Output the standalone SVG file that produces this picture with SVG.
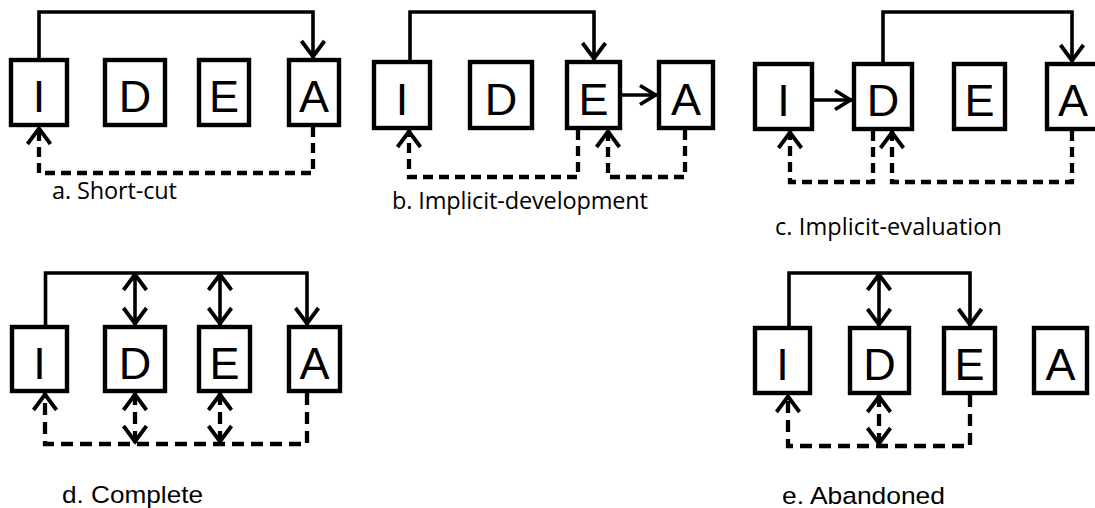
<svg xmlns="http://www.w3.org/2000/svg" width="1095" height="508" viewBox="0 0 1095 508">
<style>
.box{fill:#fff;stroke:#000;stroke-width:4.4}
.lt{font-family:"Liberation Sans",Arial,sans-serif;font-size:45px;text-anchor:middle;fill:#000}
.cn{fill:none;stroke:#000;stroke-width:3.6}
.ds{fill:none;stroke:#000;stroke-width:4.3;stroke-dasharray:10 6}
.ds2{fill:none;stroke:#000;stroke-width:4.3;stroke-dasharray:12 7}
.cap{font-family:"Open Sans","Noto Sans",sans-serif;font-size:23.5px;fill:#000}
.cap2{font-family:"Liberation Sans",Arial,sans-serif;font-size:24.5px;fill:#000}
</style>
<defs>
<marker id="ah" markerUnits="userSpaceOnUse" orient="auto-start-reverse" refX="0" refY="0" markerWidth="30" markerHeight="30" viewBox="-22 -15 26 30" overflow="visible">
<path d="M-17,-11.5 L-1.5,0 L-17,11.5" fill="none" stroke="#000" stroke-width="3.8" stroke-dasharray="none"/>
</marker>
<marker id="ahh" markerUnits="userSpaceOnUse" orient="auto-start-reverse" refX="0" refY="0" markerWidth="30" markerHeight="30" viewBox="-22 -15 26 30" overflow="visible">
<path d="M-17,-9.5 L-1.5,0 L-17,9.5" fill="none" stroke="#000" stroke-width="3.8" stroke-dasharray="none"/>
</marker>
</defs>

<g id="connectors">
<path class="cn" d="M39,58 V12 H313 V58" marker-end="url(#ah)"/>
<path class="ds" d="M313,127 V173 H39 V127" marker-end="url(#ah)"/>
<path class="cn" d="M410,60 V12 H594 V60" marker-end="url(#ah)"/>
<path class="cn" d="M622,95 H657" marker-end="url(#ahh)"/>
<path class="ds" d="M578,130 V177 H409 V130" marker-end="url(#ah)"/>
<path class="ds" d="M685,130 V177 H608 V130" marker-end="url(#ah)"/>
<path class="cn" d="M883,62 V12 H1072 V62" marker-end="url(#ah)"/>
<path class="cn" d="M814,100 H852" marker-end="url(#ahh)"/>
<path class="ds" d="M873,131 V182 H790 V131" marker-end="url(#ah)"/>
<path class="ds" d="M1072,131 V182 H892 V131" marker-end="url(#ah)"/>
<path class="cn" d="M45.5,325 V273 H307 V325" marker-end="url(#ah)"/>
<path class="cn" d="M135,273 V325" marker-start="url(#ah)" marker-end="url(#ah)"/>
<path class="cn" d="M220,273 V325" marker-start="url(#ah)" marker-end="url(#ah)"/>
<path class="ds2" d="M307,393 V444 H45 V393" marker-end="url(#ah)"/>
<path class="ds2" d="M135,393 V443" marker-start="url(#ah)" marker-end="url(#ah)"/>
<path class="ds2" d="M220,393 V443" marker-start="url(#ah)" marker-end="url(#ah)"/>
<path class="cn" d="M789,326 V273 H970 V326" marker-end="url(#ah)"/>
<path class="cn" d="M879,273 V326" marker-start="url(#ah)" marker-end="url(#ah)"/>
<path class="ds2" d="M970,395 V446 H788 V395" marker-end="url(#ah)"/>
<path class="ds2" d="M879,395 V445" marker-start="url(#ah)" marker-end="url(#ah)"/>
</g>

<g id="a-I"><rect class="box" x="11" y="60" width="56" height="65"/><text class="lt" x="39" y="112">I</text></g>
<g id="a-D"><rect class="box" x="105" y="60" width="60" height="65"/><text class="lt" x="135" y="112">D</text></g>
<g id="a-E"><rect class="box" x="199" y="60" width="50" height="65"/><text class="lt" x="224" y="112">E</text></g>
<g id="a-A"><rect class="box" x="289" y="60" width="50" height="65"/><text class="lt" x="314" y="112">A</text></g>
<text class="cap" x="52" y="199" textLength="125">a. Short-cut</text>

<g id="b-I"><rect class="box" x="374" y="62" width="56" height="66"/><text class="lt" x="402" y="114.5">I</text></g>
<g id="b-D"><rect class="box" x="470" y="62" width="62" height="66"/><text class="lt" x="501" y="114.5">D</text></g>
<g id="b-E"><rect class="box" x="567" y="62" width="53" height="66"/><text class="lt" x="593.5" y="114.5">E</text></g>
<g id="b-A"><rect class="box" x="659" y="62" width="54" height="66"/><text class="lt" x="686" y="114.5">A</text></g>
<text class="cap" x="392" y="209" textLength="256">b. Implicit-development</text>

<g id="c-I"><rect class="box" x="755" y="64" width="57" height="65"/><text class="lt" x="783.5" y="116">I</text></g>
<g id="c-D"><rect class="box" x="854" y="64" width="58" height="65"/><text class="lt" x="883" y="116">D</text></g>
<g id="c-E"><rect class="box" x="954" y="64" width="51" height="65"/><text class="lt" x="979.5" y="116">E</text></g>
<g id="c-A"><rect class="box" x="1047" y="64" width="52" height="65"/><text class="lt" x="1073" y="116">A</text></g>
<text class="cap" x="775" y="235" textLength="227">c. Implicit-evaluation</text>

<g id="d-I"><rect class="box" x="12" y="327" width="55" height="64"/><text class="lt" x="39.5" y="378.5">I</text></g>
<g id="d-D"><rect class="box" x="105" y="327" width="60" height="64"/><text class="lt" x="135" y="378.5">D</text></g>
<g id="d-E"><rect class="box" x="199" y="327" width="51" height="64"/><text class="lt" x="224.5" y="378.5">E</text></g>
<g id="d-A"><rect class="box" x="289" y="327" width="51" height="64"/><text class="lt" x="314.5" y="378.5">A</text></g>
<text class="cap2" x="62" y="503" textLength="141" lengthAdjust="spacingAndGlyphs">d. Complete</text>

<g id="e-I"><rect class="box" x="755" y="328" width="55" height="65"/><text class="lt" x="782.5" y="380">I</text></g>
<g id="e-D"><rect class="box" x="850" y="328" width="59" height="65"/><text class="lt" x="879.5" y="380">D</text></g>
<g id="e-E"><rect class="box" x="944" y="328" width="51" height="65"/><text class="lt" x="969.5" y="380">E</text></g>
<g id="e-A"><rect class="box" x="1034" y="328" width="53" height="65"/><text class="lt" x="1060.5" y="380">A</text></g>
<text class="cap2" x="782" y="504" textLength="163" lengthAdjust="spacingAndGlyphs">e. Abandoned</text>
</svg>
